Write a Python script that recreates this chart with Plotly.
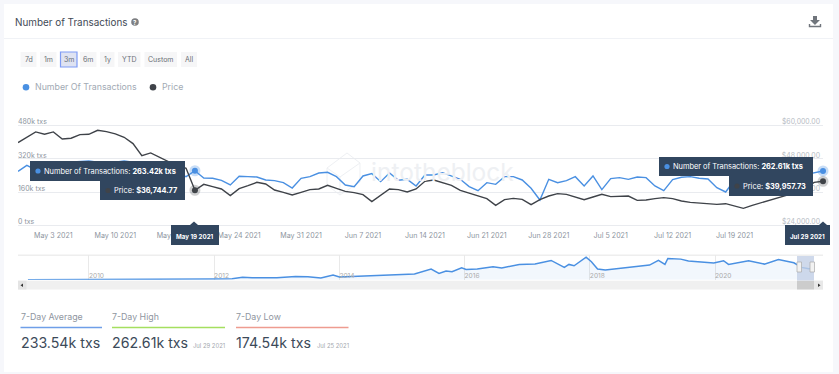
import plotly.graph_objects as go
from datetime import date, timedelta

W, H = 839, 374
start = date(2021, 4, 29)
txs_k = [260.8,289.6,267.2,291.2,299.2,302.4,304,310.4,310.4,304,299.2,304,310.4,304,294.4,291.2,275.2,259.2,251.2,235.2,263.42,
228.8,227.2,217.6,195.2,236.8,235.2,233.6,219.2,216,206.4,180.8,227.2,235.2,252.8,256,235.2,195.2,187.2,238.4,249.6,211.2,252.8,217.6,222.4,190.4,
243.2,243.2,254.4,238.4,222.4,187.2,168,206.4,198.4,235.2,235.2,219.2,179.2,123.2,222.4,206.4,216,235.2,190.4,238.4,172.8,225.6,230.4,222.4,233.6,230.4,
190.4,168,220.8,232,235.2,227.2,224,182.4,161.6,219.2,227.2,219.2,211.2,225,230,174.54,240,245,255,262.61]
price = [53880,55680,57720,56880,57720,55200,55440,56760,56880,58320,57840,57000,55800,53520,49200,50160,48480,47040,45840,44640,36744.77,
38880,38040,37200,34800,37320,38400,39600,39000,36840,36000,35040,36000,36960,37200,38520,37440,36360,35880,35160,32640,35040,37200,36960,36120,37200,
39960,40440,39360,38520,36720,35760,34920,33720,31320,33360,33840,33480,31560,33360,34680,35520,35280,34200,33360,34320,35280,34440,34560,34680,33120,33240,
33720,34080,33720,32880,32400,32160,31680,31680,31920,31200,30240,31320,32280,33000,34200,35040,36000,37440,39600,39957.73]
dates = [(start + timedelta(days=i)).isoformat() for i in range(len(txs_k))]
tick_dates = ["2021-05-03","2021-05-10","2021-05-17","2021-05-24","2021-05-31","2021-06-07","2021-06-14","2021-06-21","2021-06-28","2021-07-05","2021-07-12","2021-07-19","2021-07-26"]
tick_text = ["May 3 2021","May 10 2021","May 17 2021","May 24 2021","May 31 2021","Jun 7 2021","Jun 14 2021","Jun 21 2021","Jun 28 2021","Jul 5 2021","Jul 12 2021","Jul 19 2021","Jul 26 2021"]
txs_ticks = [0,160,320,480]
txs_labels = ["0 txs","160k txs","320k txs","480k txs"]
price_ticks = [24000,36000,48000,60000]
price_labels = ["$24,000.00","$36,000.00","$48,000.00","$60,000.00"]
nav_dates = ["2009-01-10","2010-01-01","2011-01-01","2011-07-01","2012-01-01","2012-04-15","2012-06-15","2012-08-10","2013-01-01","2013-04-20","2013-07-01","2013-09-15","2013-11-25","2014-01-01","2014-04-20","2014-10-20","2015-01-01","2015-03-15","2015-06-20","2015-08-05","2015-09-15","2015-10-20","2015-12-15","2016-01-10","2016-03-15","2016-06-15","2016-08-05","2016-11-15","2017-02-15","2017-05-20","2017-08-05","2017-09-01","2017-10-01","2017-12-10","2018-01-10","2018-02-15","2018-04-01","2018-06-20","2018-09-25","2018-12-15","2019-02-05","2019-03-15","2019-04-01","2019-05-25","2019-06-15","2019-07-30","2019-12-25","2020-02-20","2020-03-20","2020-07-15","2020-10-15","2021-01-05","2021-04-05","2021-05-20","2021-07-01","2021-07-29"]
nav_k = [1,0.5,5,12,15,23,54,46,46,73,69,38,107,61,77,107,123,130,245,146,200,184,276,238,245,299,268,353,360,445,284,353,322,521,414,245,222,253,299,337,445,353,491,491,475,430,383,437,353,437,360,468,391,284,253,262.61]
nav_ticks = ["2010-01-01","2012-01-01","2014-01-01","2016-01-01","2018-01-01","2020-01-01"]
nav_labels = ["2010","2012","2014","2016","2018","2020"]
buttons = ["7d","1m","3m","6m","1y","YTD","Custom","All"]
stats = [("7-Day Average","233.54k txs",""),("7-Day High","262.61k txs","Jul 29 2021"),("7-Day Low","174.54k txs","Jul 25 2021")]

FONT = "Inter"
BLUE, DARK = "#4a90e2", "#3f4349"
NAVY = "#31465f"
px = lambda x: x / W
py = lambda y: 1 - y / H
shapes, anns = [], []

def rect(x0, y0, x1, y1, fill, line=None, lw=0, layer="below", op=1):
    shapes.append(dict(type="rect", xref="paper", yref="paper", x0=px(x0), x1=px(x1), y0=py(y0), y1=py(y1),
                       fillcolor=fill, line=dict(color=line or fill, width=lw), layer=layer, opacity=op))
def circ(cx, cy, r, fill, layer="below"):
    shapes.append(dict(type="circle", xref="paper", yref="paper", x0=px(cx-r), x1=px(cx+r), y0=py(cy-r), y1=py(cy+r),
                       fillcolor=fill, line=dict(width=0), layer=layer))
def hline(x0, x1, y, color, w=1):
    shapes.append(dict(type="line", xref="paper", yref="paper", x0=px(x0), x1=px(x1), y0=py(y), y1=py(y), line=dict(color=color, width=w), layer="below"))
def path(pts, fill=None, line=None, lw=1, layer="below"):
    d = "M" + " L".join(f"{px(a):.5f},{py(b):.5f}" for a, b in pts) + (" Z" if fill else "")
    shapes.append(dict(type="path", xref="paper", yref="paper", path=d, fillcolor=fill or "rgba(0,0,0,0)",
                       line=dict(color=line or "rgba(0,0,0,0)", width=lw), layer=layer))
def text(x, y, s, size, color, anchor="left"):
    anns.append(dict(xref="paper", yref="paper", x=px(x), y=py(y), text=s, showarrow=False, xanchor=anchor, yanchor="middle",
                     font=dict(family=FONT, size=size, color=color), borderpad=0, borderwidth=0))

# card and header
rect(4, 4, 833, 372, "#ffffff")
hline(4, 833, 38.5, "#f0f2f6")
text(15, 21.5, "Number of Transactions", 9.9, "#3f4a56")
circ(135, 22, 3.8, "#7d7f82")
text(135, 22, "<b>?</b>", 6, "#ffffff", "center")
# download icon
path([(813,16),(817,16),(817,20),(820,20),(815,25),(810,20),(813,20)], fill="#70757c")
path([(809.5,24),(809.5,26.5),(820.5,26.5),(820.5,24)], line="#70757c", lw=1.4)

# range buttons
spans = [(20.5,36.5),(40,56.5),(60.5,77),(80,96.5),(100,114.5),(118,140.5),(144.5,177),(181,197)]
for b, (a, c) in zip(buttons, spans):
    on = b == "3m"
    rect(a, 52, c, 67, "#dfe3f2" if on else "#f6f6f7", "#7f9cf5" if on else "#f6f6f7", 1.2 if on else 0)
    text((a+c)/2, 60, b, 7, "#6a6f76", "center")

# legend
circ(26, 87.3, 3.3, BLUE)
text(35, 86.5, "Number Of Transactions", 8.8, "#a2aab4")
circ(153, 87.3, 3.3, DARK)
text(162, 86.5, "Price", 8.8, "#a2aab4")

# watermark
text(371, 172, "intotheblock", 24.5, "#eef0f3")
path([(327,168),(347,153),(360,163),(360,182),(340,195),(327,185),(327,168),(340,177),(360,163)], line="#eef0f3", lw=1)
path([(340,177),(340,195)], line="#eef0f3", lw=1)

# navigator
rect(18, 254.5, 823, 256, "#eeeeee")
rect(797, 256, 814, 280.5, "#c3cfe6", op=0.8, layer="above")
rect(797, 262, 801.5, 272, "#f2f2f2", "#aaaaaa", 0.7, "above")
rect(810, 262, 814.5, 272, "#f2f2f2", "#aaaaaa", 0.7, "above")
rect(18, 280.7, 823, 289.5, "#f0f0f0")
rect(18, 280.7, 26.5, 289.5, "#e4e4e4")
path([(23,283.5),(23,287),(20.5,285.2)], fill="#333333")
rect(797, 280.7, 814, 289.5, "#cccccc")
rect(814, 280.7, 823, 289.5, "#e8e8e8")
path([(818,283.5),(818,287),(820.5,285.2)], fill="#333333")

# tooltips
def tip(x0, y0, x1, y1):
    rect(x0, y0, x1, y1, NAVY, layer="above")
tip(30, 161, 185, 181); tip(100, 181, 185, 200)
circ(38, 171, 2.6, BLUE, "above"); circ(108, 190.5, 2.6, DARK, "above")
anns_tip = [(44, 171.3, "Number of Transactions: <b>263.42k txs</b>", 7.4), (114, 190.8, "Price: <b>$36,744.77</b>", 7.4)]
tip(659, 157, 813, 176); tip(729, 176, 813, 196)
circ(667, 166.5, 2.6, BLUE, "above"); circ(737, 186, 2.6, DARK, "above")
anns_tip += [(672.5, 166.8, "Number of Transactions: <b>262.61k txs</b>", 7.4), (743, 186.3, "Price: <b>$39,957.73</b>", 7.4)]
for a in anns_tip:
    text(a[0], a[1], a[2], a[3], "#ffffff")
tip(171, 225, 219, 245); tip(785, 225, 830, 245)
path([(190,225),(194,221.5),(198,225)], fill=NAVY, layer="above")
path([(819,225),(823,221.5),(827,225)], fill=NAVY, layer="above")
text(195, 236, "<b>May 19 2021</b>", 6.2, "#ffffff", "center")
text(807.5, 236, "<b>Jul 29 2021</b>", 6.2, "#ffffff", "center")

# stats
cols = [(20.5, 102, "#6f9fe8"), (112, 225, "#a5df5f"), (236, 348.5, "#ee9c90")]
for (lab, val, dt), (a, c, col) in zip(stats, cols):
    text(a, 316.5, lab, 8.8, "#8f969f")
    hline(a, c, 327.5, col, 1.3)
    text(a, 342.5, val, 14.2, "#3c4a59")
    if dt:
        text(c, 345.5, dt, 5.9, "#a3a8ae", "right")

AX_L, AX_R = px(18), px(823)
TOP, BOT, ZERO, STEP = 112.0, 230.0, 225.7, 33.37
fig = go.Figure()
fig.add_trace(go.Scatter(x=dates, y=price, yaxis="y2", mode="lines", line=dict(color=DARK, width=1.4), hoverinfo="skip"))
fig.add_trace(go.Scatter(x=dates, y=txs_k, mode="lines", line=dict(color=BLUE, width=1.4), hoverinfo="skip"))
sel = [20, 91]
fig.add_trace(go.Scatter(x=[dates[i] for i in sel], y=[txs_k[i] for i in sel], mode="markers", cliponaxis=False,
                         marker=dict(color=BLUE, size=6, line=dict(color="rgba(74,144,226,0.3)", width=5)), hoverinfo="skip"))
fig.add_trace(go.Scatter(x=[dates[i] for i in sel], y=[price[i] for i in sel], yaxis="y2", mode="markers", cliponaxis=False,
                         marker=dict(color=DARK, size=6, line=dict(color="rgba(63,67,73,0.25)", width=5)), hoverinfo="skip"))
fig.add_trace(go.Scatter(x=nav_dates, y=nav_k, xaxis="x2", yaxis="y3", mode="lines", fill="tozeroy",
                         fillcolor="rgba(74,144,226,0.07)", line=dict(color=BLUE, width=1.5), hoverinfo="skip"))

GREY = "#8d95a0"
fig.update_layout(
    width=W, height=H, margin=dict(l=0, r=0, t=0, b=0), showlegend=False,
    paper_bgcolor="#f6f7fb", plot_bgcolor="rgba(0,0,0,0)", font=dict(family=FONT),
    shapes=shapes, annotations=anns,
    xaxis=dict(domain=[AX_L, AX_R], range=[start.isoformat(), "2021-07-29"], tickvals=tick_dates, ticktext=tick_text,
               showgrid=False, zeroline=False, showline=False, ticks="", tickfont=dict(size=7.1, color=GREY), anchor="y"),
    yaxis=dict(domain=[py(BOT), py(TOP)], range=[-160*(BOT-ZERO)/STEP, 160*(ZERO-TOP)/STEP], tickvals=txs_ticks, ticktext=txs_labels,
               ticklabelposition="inside top", gridcolor="#e9ebef", gridwidth=1, zeroline=False, showline=False, ticks="",
               tickfont=dict(size=7, color=GREY), anchor="x", ticklabelshift=1, ticklabelstandoff=-3),
    yaxis2=dict(domain=[py(BOT), py(TOP)], range=[24000-12000*(BOT-ZERO)/STEP, 24000+12000*(ZERO-TOP)/STEP], tickvals=price_ticks, ticktext=price_labels,
                overlaying="y", side="right", ticklabelposition="inside top", showgrid=False, zeroline=False, showline=False, ticks="",
                tickfont=dict(size=6.9, color="#b7bcc4"), anchor="x", ticklabelshift=1),
    xaxis2=dict(domain=[AX_L, AX_R], range=["2008-11-13", "2021-09-22"], tickvals=nav_ticks, ticktext=nav_labels,
                ticklabelposition="inside right", gridcolor="#e9e9e9", gridwidth=1, zeroline=False, showline=False, ticks="",
                tickfont=dict(size=6.6, color="#aaaaaa"), anchor="y3", ticklabelstandoff=-6),
    yaxis3=dict(domain=[py(279.7), py(255)], range=[0, 570], showgrid=False, zeroline=False, showline=False,
                showticklabels=False, ticks="", anchor="x2"),
)
fig.write_html("out.html", post_script="document.body.style.margin='0';document.body.style.overflow='hidden';",
               config=dict(displayModeBar=False))
